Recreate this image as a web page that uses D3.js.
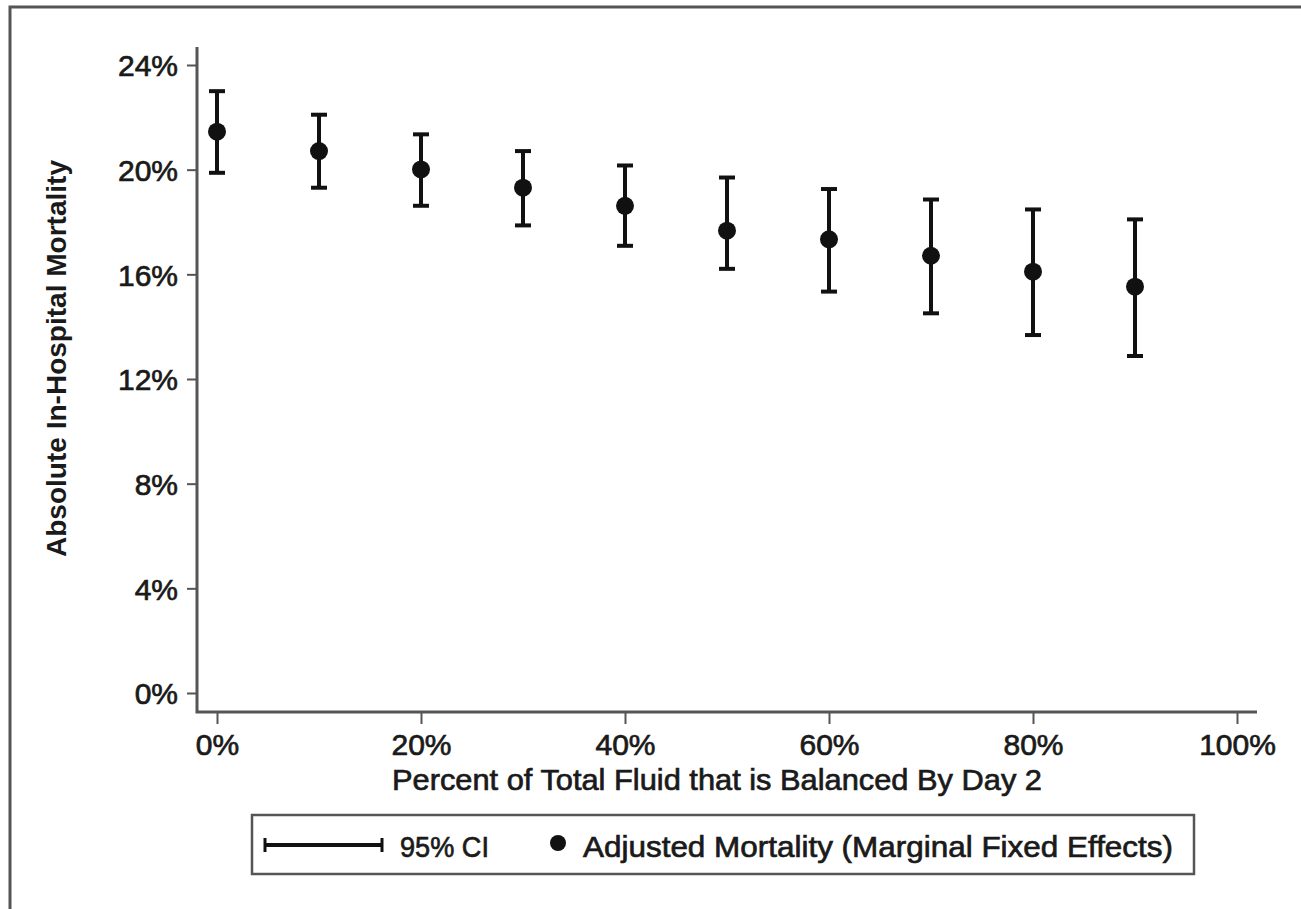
<!DOCTYPE html>
<html>
<head>
<meta charset="utf-8">
<script src="https://cdn.jsdelivr.net/npm/d3@7"></script>
<style>
    body { margin: 0; background: #fff; }
    svg { display: block; }
    text { font-family: "Liberation Sans", Arial, Helvetica, sans-serif; fill: #1a1a1a; }
    .heavy { stroke: #1a1a1a; stroke-width: 0.7px; }
</style>
</head>
<body>
<div id="chart"></div>
<script>
// percent of total fluid that is balanced (x)
const balancedPct = [0, 10, 20, 30, 40, 50, 60, 70, 80, 90];
// adjusted mortality, %
const mortality = [21.45, 20.71, 20.01, 19.31, 18.62, 17.67, 17.34, 16.71, 16.10, 15.53];
// 95% CI bounds, %
const ciLower = [19.88, 19.31, 18.62, 17.87, 17.09, 16.21, 15.34, 14.51, 13.68, 12.88];
const ciUpper = [23.00, 22.10, 21.35, 20.71, 20.16, 19.70, 19.26, 18.86, 18.48, 18.10];

const xTicks = [0, 20, 40, 60, 80, 100];
const yTicks = [0, 4, 8, 12, 16, 20, 24];
const legendLabels = ["95% CI", "Adjusted Mortality (Marginal Fixed Effects)"];

const width = 1301, height = 909;
const ink = "#111";
const axisColor = "#555";

const svg = d3.select('#chart')
    .append('svg')
    .attr('width', width)
    .attr('height', height);

// outer frame (only top and left edges are visible in the picture)
svg.append('rect')
    .attr('x', 10)
    .attr('y', 7)
    .attr('width', width + 20)
    .attr('height', height + 20)
    .attr('fill', 'none')
    .attr('stroke', axisColor)
    .attr('stroke-width', 3);

const x = d3.scaleLinear().domain([0, 100]).range([217, 1237]);
const y = d3.scaleLinear().domain([0, 24]).range([693, 65]);

// y axis
const yAxis = svg.append('g')
    .attr('transform', 'translate(197,0)')
    .call(d3.axisLeft(y).tickValues(yTicks).tickFormat(d => d + '%').tickSize(10).tickPadding(9));
yAxis.select('.domain').remove();
yAxis.selectAll('.tick line').attr('stroke', axisColor).attr('stroke-width', 2);
yAxis.selectAll('.tick text')
    .attr('class', 'heavy')
    .attr('font-size', 30)
    .attr('dy', '0.36em')
    .style('fill', '#1a1a1a');

// x axis
const xAxis = svg.append('g')
    .attr('transform', 'translate(0,712)')
    .call(d3.axisBottom(x).tickValues(xTicks).tickFormat(d => d + '%').tickSize(12).tickPadding(10));
xAxis.select('.domain').remove();
xAxis.selectAll('.tick line').attr('stroke', axisColor).attr('stroke-width', 2);
xAxis.selectAll('.tick text')
    .attr('class', 'heavy')
    .attr('font-size', 30)
    .attr('dy', '0.69em')
    .style('fill', '#1a1a1a');

// axis lines drawn as an L that runs a little past the ticks
svg.append('path')
    .attr('d', `M197,47 L197,712 L1257,712`)
    .attr('fill', 'none')
    .attr('stroke', axisColor)
    .attr('stroke-width', 3);

// axis titles
svg.append('text')
    .attr('transform', `translate(66,${(160 + 557) / 2}) rotate(-90)`)
    .attr('text-anchor', 'middle')
    .attr('font-size', 28)
    .attr('font-weight', 'bold')
    .attr('textLength', 397)
    .attr('lengthAdjust', 'spacingAndGlyphs')
    .text('Absolute In-Hospital Mortality');

svg.append('text')
    .attr('class', 'heavy')
    .attr('x', 717)
    .attr('y', 790)
    .attr('text-anchor', 'middle')
    .attr('font-size', 30)
    .attr('textLength', 650)
    .attr('lengthAdjust', 'spacingAndGlyphs')
    .text('Percent of Total Fluid that is Balanced By Day 2');

// error bars
const bars = svg.append('g');
const capW = 8;
balancedPct.forEach((p, i) => {
    const cx = x(p);
    bars.append('line')
        .attr('x1', cx).attr('x2', cx)
        .attr('y1', y(ciLower[i])).attr('y2', y(ciUpper[i]))
        .attr('stroke', ink).attr('stroke-width', 4);
    [ciLower[i], ciUpper[i]].forEach(v => {
        bars.append('line')
            .attr('x1', cx - capW).attr('x2', cx + capW)
            .attr('y1', y(v)).attr('y2', y(v))
            .attr('stroke', ink).attr('stroke-width', 4);
    });
});

// points
svg.append('g')
    .selectAll('circle')
    .data(balancedPct)
    .join('circle')
    .attr('cx', d => x(d))
    .attr('cy', (d, i) => y(mortality[i]))
    .attr('r', 9)
    .attr('fill', ink);

// legend
const legend = svg.append('g');
legend.append('rect')
    .attr('x', 252)
    .attr('y', 815)
    .attr('width', 942)
    .attr('height', 59)
    .attr('fill', '#fff')
    .attr('stroke', axisColor)
    .attr('stroke-width', 2.5);

legend.append('line')
    .attr('x1', 265).attr('x2', 382)
    .attr('y1', 845).attr('y2', 845)
    .attr('stroke', ink).attr('stroke-width', 4);
[265, 382].forEach(lx => {
    legend.append('line')
        .attr('x1', lx).attr('x2', lx)
        .attr('y1', 838).attr('y2', 852)
        .attr('stroke', ink).attr('stroke-width', 3);
});
legend.append('text')
    .attr('class', 'heavy')
    .attr('x', 400)
    .attr('y', 857)
    .attr('font-size', 30)
    .attr('textLength', 89)
    .attr('lengthAdjust', 'spacingAndGlyphs')
    .text(legendLabels[0]);

legend.append('circle')
    .attr('cx', 558)
    .attr('cy', 843)
    .attr('r', 8)
    .attr('fill', ink);
legend.append('text')
    .attr('class', 'heavy')
    .attr('x', 583)
    .attr('y', 857)
    .attr('font-size', 30)
    .attr('textLength', 590)
    .attr('lengthAdjust', 'spacingAndGlyphs')
    .text(legendLabels[1]);
</script>
</body>
</html>
